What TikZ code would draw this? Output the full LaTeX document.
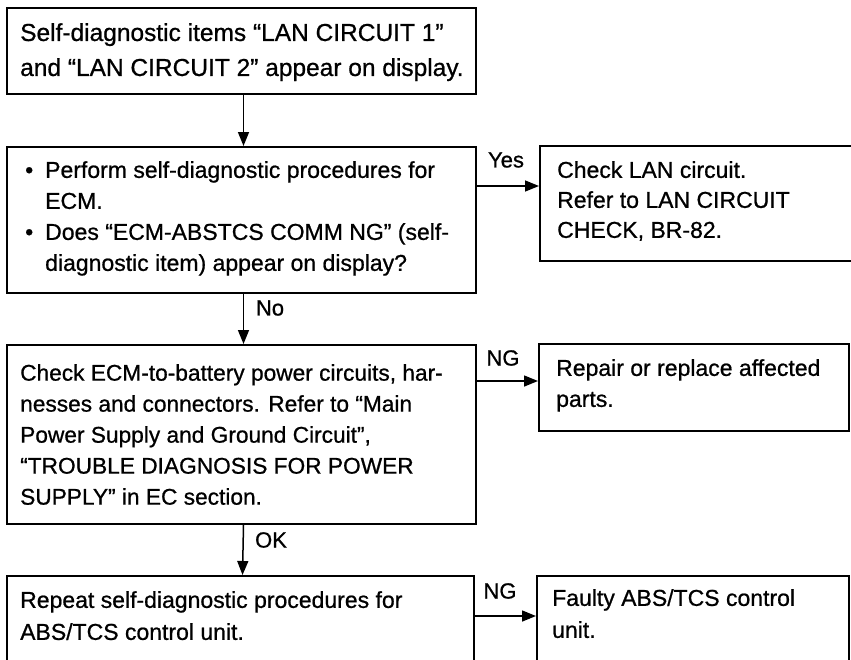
\documentclass[tikz,border=0pt]{standalone}
\usepackage{fontspec}
\setmainfont{Liberation Sans}[FakeBold=0.8]
\usetikzlibrary{arrows.meta}
\begin{document}
\begin{tikzpicture}[x=1pt,y=-1pt,
  box/.style={draw, line width=2pt, inner sep=0pt, anchor=north west},
  txt/.style={inner sep=0pt, anchor=north west, align=left, font=\fontsize{23}{31}\selectfont},
  flow/.style={line width=1.5pt, -{Triangle[length=14pt,width=11pt]}},
  lbl/.style={inner sep=0pt, font=\fontsize{22}{26}\selectfont}]
\useasboundingbox (0,0) rectangle (851,659);
% boxes
\node[box, minimum width=469pt, minimum height=86pt] (b1) at (6,7) {};
\node[box, minimum width=469pt, minimum height=146pt] (b2) at (6,146) {};
\node[box, minimum width=320pt, minimum height=115pt] (b3) at (539,145) {};
\node[box, minimum width=469pt, minimum height=179pt] (b4) at (6,344) {};
\node[box, minimum width=310pt, minimum height=87pt] (b5) at (538,343) {};
\node[box, minimum width=467pt, minimum height=120pt] (b6) at (6,575) {};
\node[box, minimum width=312pt, minimum height=120pt] (b7) at (536,575) {};
% texts
\node[txt, font=\fontsize{24.5}{35}\selectfont] (t1) at (20,23) {Self-diagnostic items “LAN CIRCUIT 1”\\and “LAN CIRCUIT 2” appear on display.};
\node[txt] (t2) at (25,161) {\makebox[20pt][l]{\textbullet}Perform self-diagnostic procedures for\\\hspace*{20pt}ECM.\\\makebox[20pt][l]{\textbullet}Does “ECM-ABSTCS COMM NG” (self-\\\hspace*{20pt}diagnostic item) appear on display?};
\node[txt, font=\fontsize{23}{30}\selectfont] (t3) at (557,161) {Check LAN circuit.\\Refer to LAN CIRCUIT\\CHECK, BR-82.};
\node[txt, font=\fontsize{22.7}{31}\selectfont] (t4) at (20,364) {Check ECM-to-battery power circuits, har-\\nesses and connectors. Refer to “Main\\Power Supply and Ground Circuit”,\\“TROUBLE DIAGNOSIS FOR POWER\\SUPPLY” in EC section.};
\node[txt] (t5) at (556,359) {Repair or replace affected\\parts.};
\node[txt, font=\fontsize{23}{32}\selectfont] (t6) at (20,591) {Repeat self-diagnostic procedures for\\ABS/TCS control unit.};
\node[txt, font=\fontsize{23}{32}\selectfont] (t7) at (552,589) {Faulty ABS/TCS control\\unit.};
% connectors
\draw[flow] ([xshift=2pt]b1.south) -- ([xshift=2pt]b2.north);
\draw[flow] ([xshift=2pt]b2.south) -- ([xshift=2pt]b4.north);
\draw[flow] ([xshift=2pt]b4.south) -- ([xshift=2pt]b6.north);
\draw[flow] (b2.east |- 0,186) -- (b3.west |- 0,186);
\draw[flow] (b4.east |- 0,381) -- (b5.west |- 0,381);
\draw[flow] (b6.east |- 0,616) -- (b7.west |- 0,616);
% labels
\node[lbl] (lyes) at (506,160) {Yes};
\node[lbl] (lno) at (270,308) {No};
\node[lbl] (lng1) at (503,358) {NG};
\node[lbl] (lok) at (271,540) {OK};
\node[lbl] (lng2) at (500,591) {NG};
\end{tikzpicture}
\end{document}
